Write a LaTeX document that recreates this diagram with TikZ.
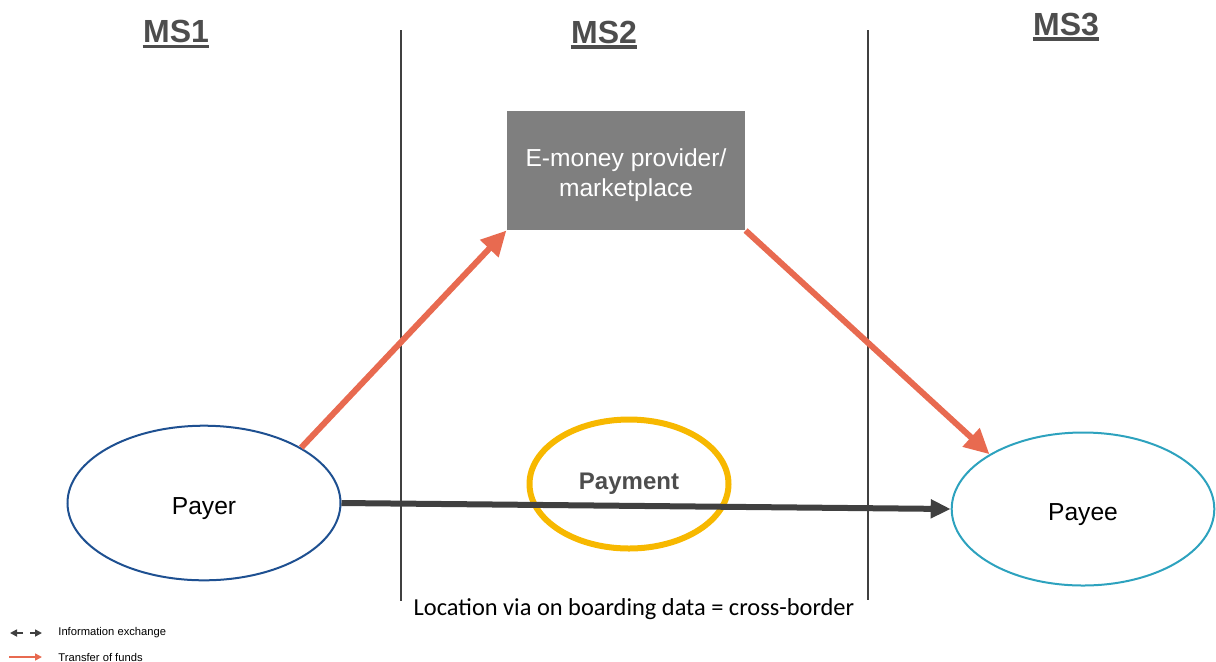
\documentclass[tikz,border=0pt]{standalone}
\usepackage{fontspec}
\setmainfont{Liberation Sans}
\newfontfamily\calfont{Carlito}
\usetikzlibrary{arrows.meta,positioning,shapes.geometric}
\definecolor{fundsred}{RGB}{232,106,80}
\definecolor{infogray}{RGB}{64,64,64}
\definecolor{boxgray}{RGB}{127,127,127}
\definecolor{payerblue}{RGB}{30,80,145}
\definecolor{payeeteal}{RGB}{45,162,190}
\definecolor{payorange}{RGB}{247,184,0}
\definecolor{headgray}{RGB}{77,77,77}

\begin{document}
\begin{tikzpicture}[x=0.5pt,y=-0.5pt,
    party/.style={draw, ellipse, line width=1pt, inner sep=0pt, text=black, text height=13.6pt,
      font=\fontsize{12.3}{14}\selectfont},
    msname/.style={anchor=base, inner xsep=0pt, text=headgray,
      font=\fontsize{16}{19}\selectfont\bfseries},
    legendtext/.style={anchor=west, inner xsep=0pt, font=\fontsize{5.6}{7}\selectfont},
    funds/.style={-{Triangle[length=12.5pt,width=12pt]}, line width=3pt, fundsred},
    info/.style={-{Triangle[length=10pt,width=9pt]}, line width=3pt, infogray}]
  \useasboundingbox (0,0) rectangle (1216,661);
  % member state columns
  \draw[infogray, line width=0.65pt] (401,30) -- (401,601);
  \draw[infogray, line width=0.65pt] (868,30) -- (868,600);
  \node[msname] (ms1) at (176,42.7) {MS1};
  \node[msname] (ms2) at (604,43) {MS2};
  \node[msname] (ms3) at (1066,35) {MS3};
  \foreach \m in {ms1,ms2,ms3}
    \draw[headgray, line width=1.75pt] ([yshift=-2pt]\m.base west) -- ([yshift=-2pt]\m.base east);

  \node[fill=boxgray, text=white, minimum width=119.2pt, minimum height=59.7pt, align=center,
    text height=29pt, font=\fontsize{12.3}{15}\selectfont] (emp) at (626,170.4) {E-money provider/\\marketplace};
  \node[party, draw=payerblue, minimum width=136.5pt, minimum height=77.3pt] (payer) at (204,503) {Payer};
  \node[party, draw=payeeteal, minimum width=131.3pt, minimum height=76.5pt] (payee) at (1083,509) {Payee};
  \node[draw=payorange, ellipse, line width=3pt, minimum width=99.5pt, minimum height=64.5pt,
    inner sep=0pt, text=headgray, font=\fontsize{12}{14}\selectfont\bfseries] (pay) at (629,484) {Payment};

  \draw[info] (payer.east) -- (payee.west);
  \draw[funds] (payer.north east) -- (emp.south west);
  \draw[funds] (emp.south east) -- (payee.north west);

  \node[anchor=base, font=\calfont\fontsize{12.2}{14}\selectfont] (loc) at (634,615)
    {Location via on boarding data = cross-border};

  % legend
  \coordinate (i0) at (10,633);
  \coordinate (i1) at (23,633);
  \coordinate (i2) at (30,633);
  \coordinate (i3) at (42,633);
  \coordinate (f0) at (9,657);
  \coordinate (f1) at (42,657);
  \draw[-{Triangle[length=3.5pt,width=3.5pt]}, infogray, line width=0.8pt] (i1) -- (i0);
  \draw[-{Triangle[length=3.5pt,width=3.5pt]}, infogray, line width=0.8pt] (i2) -- (i3);
  \draw[-{Triangle[length=3.5pt,width=3.5pt]}, fundsred, line width=0.8pt] (f0) -- (f1);
  \node[legendtext] (infolbl) at (58,633) {Information exchange};
  \node[legendtext] (fundslbl) at (58,657) {Transfer of funds};
\end{tikzpicture}
\end{document}
